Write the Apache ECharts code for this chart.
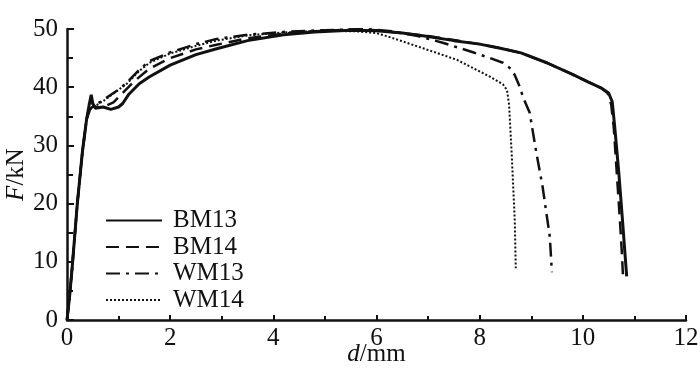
<!DOCTYPE html>
<html>
<head>
<meta charset="utf-8">
<script src="https://cdn.jsdelivr.net/npm/echarts@6/dist/echarts.min.js"></script>
<style>html,body{margin:0;padding:0;background:#fff}#c{width:700px;height:372px}</style>
</head>
<body>
<div id="c"></div>
<script>
const seriesNames = ['BM13', 'BM14', 'WM13', 'WM14'];
const xTicks = [0, 2, 4, 6, 8, 10, 12];
const yTicks = [0, 10, 20, 30, 40, 50];

const BM13 = [[0,0],[0.05,4],[0.1,9],[0.2,20],[0.3,29],[0.38,34.5],[0.43,37],[0.47,38.7],[0.5,37.2],[0.55,36.4],[0.7,36.6],[0.85,36.2],[1.0,36.6],[1.08,37.2],[1.2,38.8],[1.4,40.6],[1.6,41.8],[2.0,43.8],[2.5,45.6],[2.9,46.6],[3.5,48],[4.2,49],[4.8,49.5],[5.5,49.8],[6,49.7],[6.5,49.3],[7,48.7],[7.5,48],[8,47.4],[8.4,46.7],[8.8,45.9],[9.3,44.2],[9.8,42.2],[10.1,40.9],[10.35,39.9],[10.5,39],[10.57,37.5],[10.62,33],[10.7,25],[10.77,17],[10.82,11],[10.85,7.5]];
const BM14 = [[0,0],[0.05,4],[0.1,9],[0.2,20],[0.3,29],[0.38,34.5],[0.43,36.5],[0.47,37.6],[0.52,36.8],[0.6,36.5],[0.75,36.8],[0.9,37.4],[1.1,39.2],[1.3,41],[1.6,43.2],[2,45],[2.5,46.5],[2.9,47.3],[3.5,48.4],[4.2,49.2],[4.8,49.6],[5.5,49.9],[6,49.8],[6.5,49.3],[7,48.8],[7.5,48.1],[8,47.4],[8.4,46.7],[8.8,45.9],[9.3,44.2],[9.8,42.2],[10.1,40.9],[10.35,39.9],[10.48,39],[10.55,37],[10.6,33],[10.66,25],[10.72,17],[10.76,11],[10.78,7.2]];
const WM13 = [[0,0],[0.05,4],[0.1,9],[0.2,20],[0.3,29],[0.38,34.5],[0.45,36.3],[0.55,37],[0.65,37.5],[0.8,38.4],[1.0,39.6],[1.16,40.8],[1.4,43],[1.6,44.5],[2,46],[2.5,47.4],[2.9,48.3],[3.5,49],[4.2,49.5],[5,49.8],[5.8,50],[6.3,49.6],[6.8,48.8],[7.3,47.6],[7.87,46],[8.2,45],[8.45,44.2],[8.6,43.2],[8.68,42.1],[8.78,40],[8.84,38.3],[8.97,35.6],[9.1,28.7],[9.22,22.9],[9.36,14.3],[9.4,8.2]];
const WM14 = [[0,0],[0.05,4],[0.1,9],[0.2,20],[0.3,29],[0.38,34.5],[0.45,36.2],[0.55,36.8],[0.7,37.6],[0.9,38.9],[1.16,40.6],[1.4,42.8],[1.6,44.2],[2,45.8],[2.5,47.1],[2.9,48],[3.5,48.9],[4.2,49.4],[5,49.7],[5.6,49.6],[6,49.3],[6.26,48.6],[6.9,46.7],[7.56,44.7],[8.2,41.8],[8.45,40.5],[8.53,39.5],[8.57,37],[8.62,28.7],[8.68,17.2],[8.7,8.9]];

const dataSets = [BM13, BM14, WM13, WM14];
const styles = [
  {width: 3, type: 'solid'},
  {width: 2.5, type: [13, 7]},
  {width: 2.5, type: [14, 6, 3, 6]},
  {width: 2, type: [2, 2]}
];

const font = 'Liberation Serif, Times New Roman, serif';
const chart = echarts.init(document.getElementById('c'));
chart.setOption({
  backgroundColor: '#fff',
  animation: false,
  grid: {left: 67, right: 14, top: 29, bottom: 52, containLabel: false, outerBoundsMode: 'none'},
  legend: {
    orient: 'vertical', left: 100, top: 203,
    itemWidth: 56, itemHeight: 14, itemGap: 1.5,
    data: seriesNames,
    itemStyle: {opacity: 0},
    textStyle: {fontFamily: font, fontSize: 25, color: '#111', padding: [0, 0, 0, 6], lineHeight: 22}
  },
  xAxis: {
    type: 'value', min: 0, max: 12, interval: 2,
    name: '{i|d}/mm', nameLocation: 'middle', nameGap: 22, nameMoveOverlap: false,
    nameTextStyle: {fontFamily: font, fontSize: 25, color: '#111', rich: {i: {fontStyle: 'italic', fontFamily: font, fontSize: 25, color: '#111'}}},
    axisLine: {show: true, onZero: false, lineStyle: {color: '#111', width: 2.5}},
    axisTick: {show: true, inside: true, length: 5, lineStyle: {color: '#111', width: 2}},
    minorTick: {show: true, splitNumber: 2, length: 4, lineStyle: {color: '#111', width: 2}},
    axisLabel: {fontFamily: font, fontSize: 25, color: '#111', margin: 6, customValues: xTicks},
    splitLine: {show: false}
  },
  yAxis: {
    type: 'value', min: 0, max: 50, interval: 10,
    name: '{i|F}/kN', nameLocation: 'middle', nameGap: 38, nameRotate: 90, nameMoveOverlap: false,
    nameTextStyle: {fontFamily: font, fontSize: 25, color: '#111', rich: {i: {fontStyle: 'italic', fontFamily: font, fontSize: 25, color: '#111'}}},
    axisLine: {show: true, onZero: false, lineStyle: {color: '#111', width: 2.5}},
    axisTick: {show: true, inside: true, length: 7, lineStyle: {color: '#111', width: 2}},
    minorTick: {show: true, splitNumber: 2, length: 6, lineStyle: {color: '#111', width: 2}},
    axisLabel: {fontFamily: font, fontSize: 25, color: '#111', margin: 9, customValues: yTicks},
    splitLine: {show: false}
  },
  series: seriesNames.map((n, i) => ({
    name: n, type: 'line', data: dataSets[i], showSymbol: false, symbol: 'none',
    smooth: false,
    lineStyle: {color: '#111', width: styles[i].width, type: styles[i].type},
    itemStyle: {color: '#111'}
  }))
});
</script>
</body>
</html>
